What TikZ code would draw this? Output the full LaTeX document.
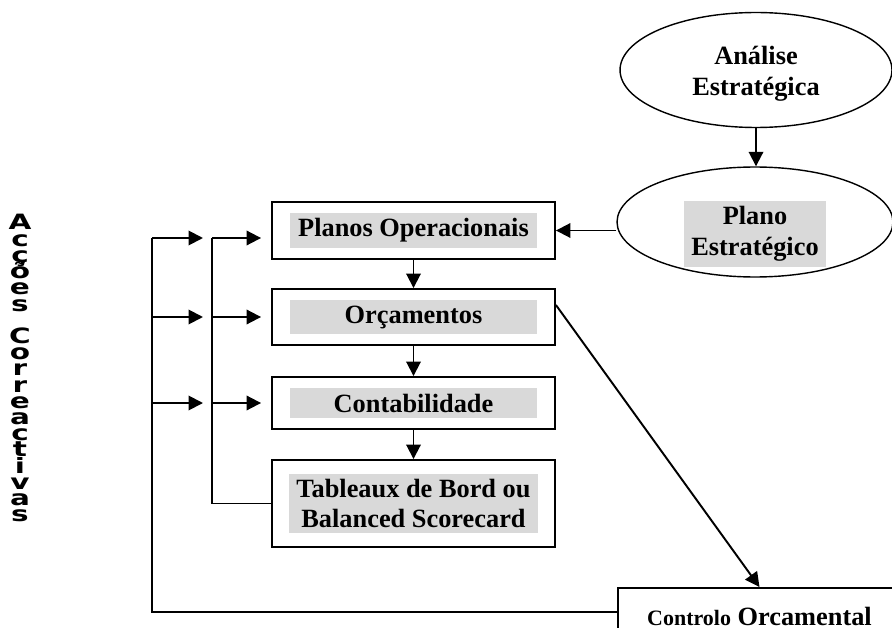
\documentclass[tikz,border=0pt]{standalone}
\usepackage{fontspec}
\setmainfont{Liberation Serif}
\newfontfamily\vfont[FakeStretch=1.4]{DejaVu Sans}
\usepackage{xcolor}
\usetikzlibrary{arrows.meta,shapes.geometric}
\definecolor{lblgray}{RGB}{217,217,217}

\begin{document}
\begin{tikzpicture}[x=0.02cm,y=-0.02cm,
  every node/.style={font=\bfseries\fontsize{15}{17.5}\selectfont},
  stage/.style={draw,line width=1.1pt,minimum width=5.66cm,inner sep=0pt},
  tag/.style={fill=lblgray,align=center,inner xsep=4pt,inner ysep=3pt},
  oval/.style={draw,ellipse,line width=0.8pt,inner sep=0pt},
  link/.style={line width=1.1pt},
  arr/.style={line width=1.1pt,-{Triangle[length=0.29cm,width=0.29cm]}},
  vlet/.style={font=\vfont\bfseries\fontsize{12}{12}\selectfont,anchor=base,inner sep=0pt}]
\useasboundingbox (0,0) rectangle (892,628);

% ellipses on the right
\node[oval,minimum width=5.44cm,minimum height=2.3cm] (ae) at (756,70) {};
\node[align=center] (aetxt) at (756,74) {Análise\\Estratégica};
\node[oval,minimum width=5.52cm,minimum height=2.2cm] (pe) at (755,222) {};
\node[tag,minimum width=2.8cm] (petxt) at (755,234) {Plano\\Estratégico};

% boxes
\node[stage,minimum height=1.14cm] (ops) at (413.5,230.5) {};
\node[tag,minimum width=4.96cm] (opstxt) at (ops) {Planos Operacionais};
\node[stage,minimum height=1.12cm] (orc) at (413.5,317) {};
\node[tag,minimum width=4.96cm] (orctxt) at (orc) {Orçamentos};
\node[stage,minimum height=1.04cm] (cont) at (413.5,403) {};
\node[tag,minimum width=4.96cm] (conttxt) at (cont) {Contabilidade};
\node[stage,minimum height=1.74cm] (tab) at (413.5,503.5) {};
\node[tag,minimum width=4.96cm] (tabtxt) at (tab) {Tableaux de Bord ou\\Balanced Scorecard};
\node[stage,minimum height=1.12cm] (ctrl) at (759.5,616) {{\fontsize{12.5}{15}\selectfont Controlo} Orcamental};

% arrows
\draw[arr] (ae.south) -- (ae.south |- pe.north);
\draw[arr] (pe.west |- ops.east) -- (ops.east);
\draw[arr] (ops) -- (orc);
\draw[arr] (orc) -- (cont);
\draw[arr] (cont) -- (tab);
\draw[arr] ([yshift=0.24cm]orc.east) -- (ctrl.north);

% feedback lines
\coordinate (o1) at (152,238);
\coordinate (o2) at (152,317);
\coordinate (o3) at (152,403);
\coordinate (i1) at (212,238);
\coordinate (i2) at (212,317);
\coordinate (i3) at (212,403);
\draw[link] ([yshift=0.08cm]ctrl.west) -| (o1);
\draw[link] (tab.west) -| (i1);
\foreach \k in {1,2,3} {
  \draw[arr,shorten >=0.18cm] (o\k) -- (i\k);
  \draw[arr,shorten >=0.2cm] (i\k) -- (i\k -| ops.west);
}

% vertical label
\foreach \ch [count=\i from 0] in {A,c,ç,õ,e,s,{},C,o,r,r,e,a,c,t,i,v,a,s}
  \node[vlet] (vl\i) at (20,{230+16.2*\i}) {\ch};
\end{tikzpicture}
\end{document}
